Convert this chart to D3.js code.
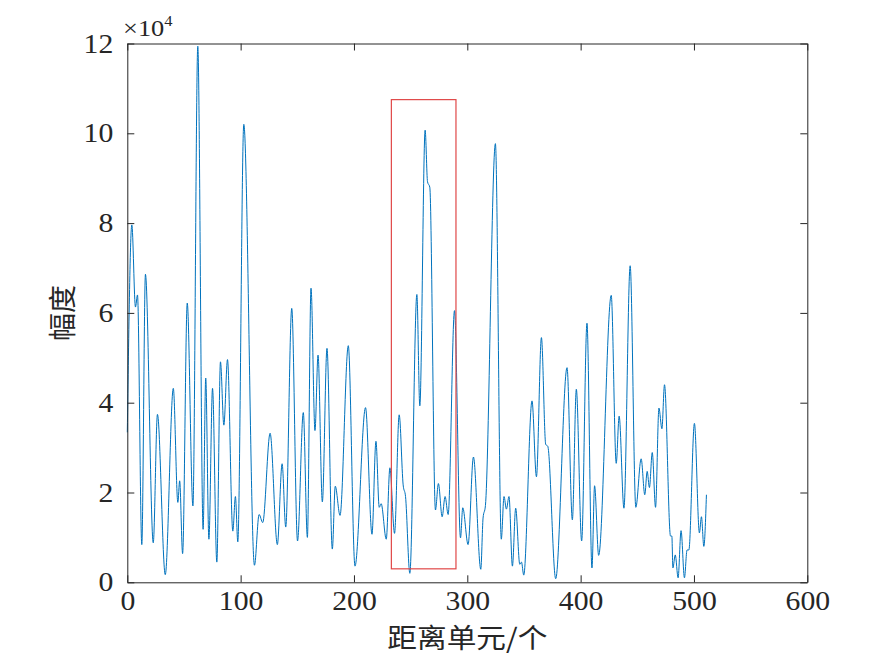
<!DOCTYPE html>
<html>
<head>
<meta charset="utf-8">
<script src="https://cdn.jsdelivr.net/npm/d3@7"></script>
<style>
  body { margin: 0; background: #fff; }
  svg { display: block; }
</style>
</head>
<body>
<svg id="chart" width="872" height="667"></svg>
<script>

// range cells (x) and amplitude (y): peaks, troughs, shoulders
var cellX = [0, 4, 7.2, 9, 12.8, 16, 22.9, 26.6, 33.5, 40.6, 44.6, 46.2, 48.8, 52.9, 57.9,
    62.2, 66.9, 69.2, 72, 75.2, 79, 82.2, 85.2, 88.4, 93.1, 95.4, 97.5, 102.8, 112.2,
    116.3, 119.5, 126, 132.4, 136.6, 139.8, 145.1, 150.2, 155.3, 158.9, 162.1, 165.6,
    168.3, 172.1, 176.2, 180.9, 183.5, 187.7, 195, 200.9, 210.2, 215.9, 219.4, 222.3,
    224, 228.5, 231.7, 235.8, 239.9, 243.4, 245.5, 249.3, 255.5, 258.1, 262.8, 264.9,
    266.9, 271.9, 274.5, 277.8, 280.4, 283.1, 288.7, 294, 296, 300.7, 305.4, 311.9,
    313.9, 316, 324.8, 330, 332.4, 334.5, 336.8, 339.8, 342.7, 346.3, 347.8, 349.8,
    357.1, 361, 365.4, 369.2, 371, 378, 388, 392.7, 396.2, 400.9, 405.6, 410, 412.3,
    415.9, 427, 431.4, 434, 438.2, 443.7, 448.7, 453.4, 456.6, 458.7, 460.7, 463.2,
    466.1, 469.1, 471.7, 474, 479.3, 480.5, 481.4, 483.5, 486, 488.6, 491.6, 493.9,
    495.5, 500.4, 504.8, 506.6, 508.7, 511];

var amplitude = [33400, 79600, 61300, 64000, 8400, 68600, 8800, 37400, 1700, 43200, 17800,
    22600, 6400, 62200, 17000, 119400, 11800, 45500, 9600, 43200, 4500, 49100, 35000,
    49600, 11400, 19100, 9000, 102000, 3800, 15100, 13300, 33200, 8400, 26400, 12300,
    61000, 9200, 37800, 10000, 65500, 33800, 50600, 17900, 52100, 7400, 21400, 14900,
    52700, 3600, 38900, 10700, 31400, 16700, 17500, 9600, 25500, 10900, 37300, 21700,
    19100, 2000, 64100, 39300, 100700, 89200, 88000, 16100, 22000, 14600, 19100, 15100,
    60500, 9900, 16600, 8400, 27900, 2900, 14300, 17100, 97700, 9600, 19100, 16300,
    19100, 3600, 16500, 4000, 4500, 1600, 40400, 23500, 54500, 30700, 30300, 800,
    47800, 13900, 43000, 9200, 57700, 3200, 21500, 6000, 63900, 26500, 37000, 16500,
    70500, 16700, 27500, 19500, 24700, 21100, 28900, 16700, 38800, 34200, 44000, 10300,
    10300, 3200, 6100, 1000, 11500, 1000, 7200, 7200, 35400, 11000, 14600, 8000, 19500];

// highlighted target region
var boxCells = [233, 290];
var boxAmp = [3000, 107500];

var xTicks = [0, 100, 200, 300, 400, 500, 600];
var yTicks = [0, 20000, 40000, 60000, 80000, 100000, 120000];

var serif = "'Liberation Serif', 'Times New Roman', serif";
var cjk = "'Noto Sans CJK SC', sans-serif";
var stretch = "scale(1.1,1)";   // the source figure is a bit wider than tall

var margin = {left: 127.3, right: 872 - 807.3, top: 43.5, bottom: 667 - 582.3};
var svg = d3.select("#chart");
var width = 872 - margin.left - margin.right;
var height = 667 - margin.top - margin.bottom;

var x = d3.scaleLinear().domain([0, 600]).range([0, width]);
var y = d3.scaleLinear().domain([0, 120000]).range([height, 0]);

var g = svg.append("g")
    .attr("transform", "translate(" + margin.left + "," + margin.top + ")");

var points = cellX.map(function(d, i) { return [d, amplitude[i]]; });

var line = d3.line()
    .x(function(d) { return x(d[0]); })
    .y(function(d) { return y(d[1]); })
    .curve(d3.curveMonotoneX);

g.append("path")
    .datum(points)
    .attr("fill", "none")
    .attr("stroke", "#0072BD")
    .attr("stroke-width", 1)
    .attr("d", line);

// red box around the target
g.append("rect")
    .attr("x", x(boxCells[0]))
    .attr("y", y(boxAmp[1]))
    .attr("width", x(boxCells[1]) - x(boxCells[0]))
    .attr("height", y(boxAmp[0]) - y(boxAmp[1]))
    .attr("fill", "none")
    .attr("stroke", "#e04848")
    .attr("stroke-width", 1.2);

// axes, ticks pointing inward like matlab
var fmtY = function(d) { return d / 10000; };

var xAxis = g.append("g")
    .attr("transform", "translate(0," + height + ")")
    .call(d3.axisBottom(x).tickValues(xTicks).tickSizeInner(-7).tickSizeOuter(0).tickPadding(9));

var yAxis = g.append("g")
    .call(d3.axisLeft(y).tickValues(yTicks).tickFormat(fmtY).tickSizeInner(-7).tickSizeOuter(0).tickPadding(14));

g.append("g")
    .call(d3.axisTop(x).tickValues(xTicks).tickFormat("").tickSizeInner(-7).tickSizeOuter(0));

g.append("g")
    .attr("transform", "translate(" + width + ",0)")
    .call(d3.axisRight(y).tickValues(yTicks).tickFormat("").tickSizeInner(-7).tickSizeOuter(0));

g.selectAll(".domain").attr("stroke", "#262626").attr("stroke-width", 1);
g.selectAll(".tick line").attr("stroke", "#262626").attr("stroke-width", 1);

xAxis.selectAll(".tick text")
    .attr("transform", stretch);
yAxis.selectAll(".tick text")
    .attr("x", -14 / 1.1)
    .attr("transform", stretch);
g.selectAll(".tick text")
    .attr("fill", "#262626")
    .style("font-family", serif)
    .style("font-size", "27px");

// exponent label
var expo = svg.append("text")
    .attr("transform", "translate(123,36) " + stretch)
    .style("font-family", serif)
    .style("font-size", "24px")
    .attr("fill", "#262626");
expo.append("tspan").text("×10");
expo.append("tspan").style("font-size", "15px").attr("dy", -10).text("4");

// axis titles
svg.append("text")
    .attr("transform", "translate(" + (margin.left + width / 2) + ",648) " + stretch)
    .attr("text-anchor", "middle")
    .style("font-family", cjk)
    .style("font-size", "27px")
    .attr("fill", "#262626")
    .text("距离单元/个");

svg.append("text")
    .attr("transform", "translate(61," + (margin.top + height / 2) + ") rotate(-90)")
    .attr("text-anchor", "middle")
    .attr("dominant-baseline", "central")
    .style("font-family", cjk)
    .style("font-size", "28px")
    .attr("fill", "#262626")
    .text("幅度");

</script>
</body>
</html>
